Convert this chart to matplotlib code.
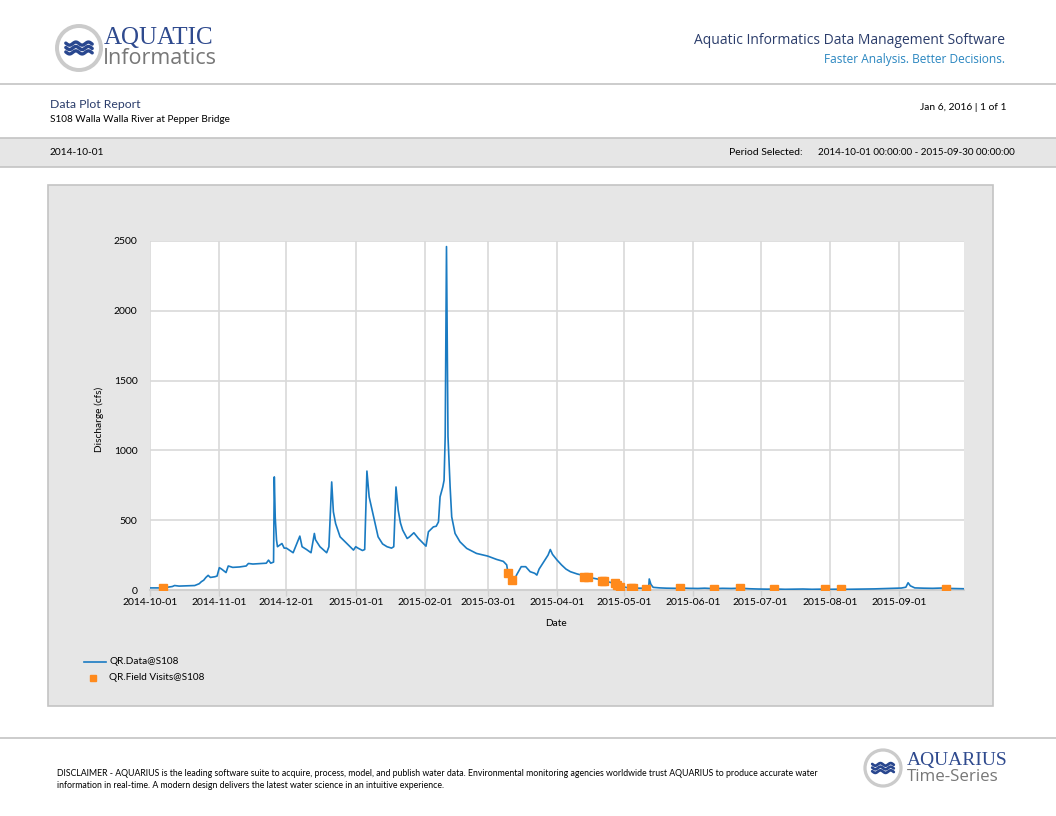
import matplotlib
matplotlib.use("Agg")
import numpy as np
import pandas as pd
import matplotlib.pyplot as plt
import matplotlib.dates as mdates
from matplotlib.patches import Rectangle, Circle

plt.rcParams['font.family'] = ['Lato', 'DejaVu Sans']

# QR.Data@S108 - discharge (cfs)
q_times = [
    "2014-10-01", "2014-10-05", "2014-10-08", "2014-10-11", "2014-10-12", "2014-10-14",
    "2014-10-18", "2014-10-21", "2014-10-23", "2014-10-24", "2014-10-25", "2014-10-26",
    "2014-10-27", "2014-10-28", "2014-10-30", "2014-10-31", "2014-11-01", "2014-11-02",
    "2014-11-04", "2014-11-05", "2014-11-07", "2014-11-10", "2014-11-13", "2014-11-14",
    "2014-11-16", "2014-11-20", "2014-11-22", "2014-11-23", "2014-11-24", "2014-11-25 06:00",
    "2014-11-25 14:00", "2014-11-26 00:00", "2014-11-26 14:00", "2014-11-27", "2014-11-29",
    "2014-11-30", "2014-12-01", "2014-12-04", "2014-12-07", "2014-12-08", "2014-12-10",
    "2014-12-12", "2014-12-13 12:00", "2014-12-14", "2014-12-16", "2014-12-19", "2014-12-20",
    "2014-12-21 06:00", "2014-12-22", "2014-12-23", "2014-12-25", "2014-12-28", "2014-12-31",
    "2015-01-01", "2015-01-02", "2015-01-04", "2015-01-05", "2015-01-06", "2015-01-07",
    "2015-01-09", "2015-01-11", "2015-01-13", "2015-01-15", "2015-01-17", "2015-01-18",
    "2015-01-19", "2015-01-20", "2015-01-21", "2015-01-22", "2015-01-24", "2015-01-25",
    "2015-01-27", "2015-01-29", "2015-02-01 10:00", "2015-02-02 12:00", "2015-02-04 17:00",
    "2015-02-06", "2015-02-07", "2015-02-07 17:00", "2015-02-08 22:00", "2015-02-09 12:00",
    "2015-02-10 00:00", "2015-02-10 14:00", "2015-02-10 22:00", "2015-02-11 06:00",
    "2015-02-12 05:00", "2015-02-12 22:00", "2015-02-14 10:00", "2015-02-16 15:00",
    "2015-02-19 15:00", "2015-02-24", "2015-03-01", "2015-03-05", "2015-03-08",
    "2015-03-09 12:00", "2015-03-10", "2015-03-11", "2015-03-12", "2015-03-13", "2015-03-14",
    "2015-03-16", "2015-03-18", "2015-03-20", "2015-03-22", "2015-03-23", "2015-03-24",
    "2015-03-26", "2015-03-28", "2015-03-29",
    "2015-03-30", "2015-04-01", "2015-04-03", "2015-04-05", "2015-04-07", "2015-04-10",
    "2015-04-12", "2015-04-14", "2015-04-17", "2015-04-20", "2015-04-23", "2015-04-26",
    "2015-04-28", "2015-04-30", "2015-05-02", "2015-05-05", "2015-05-08", "2015-05-11",
    "2015-05-12 00:00", "2015-05-12 06:00", "2015-05-13", "2015-05-14", "2015-05-17",
    "2015-05-20", "2015-05-24", "2015-05-27", "2015-05-30", "2015-06-03", "2015-06-06",
    "2015-06-10", "2015-06-14", "2015-06-18", "2015-06-22", "2015-06-26", "2015-06-30",
    "2015-07-04", "2015-07-08", "2015-07-12", "2015-07-16", "2015-07-20", "2015-07-24",
    "2015-07-28", "2015-08-01", "2015-08-05", "2015-08-09", "2015-08-13", "2015-08-17",
    "2015-08-21", "2015-08-25", "2015-08-29", "2015-09-02", "2015-09-04", "2015-09-05",
    "2015-09-06", "2015-09-08", "2015-09-12", "2015-09-16", "2015-09-20", "2015-09-24",
    "2015-09-28", "2015-09-30",
]
q_values = [
    15, 15, 18, 25, 32, 28,
    30, 32, 45, 60, 70, 90,
    105, 90, 95, 100, 160, 150,
    125, 172, 162, 165, 172, 190,
    186, 190, 192, 214, 192, 200,
    810, 520, 357, 310, 333,
    300, 300, 267, 386, 310, 290,
    267, 405, 360, 310, 267, 310,
    774, 560, 476, 381, 333, 286,
    310, 300, 283, 290, 852, 667,
    524, 381, 330, 310, 300, 310,
    738, 571, 480, 429, 369, 380,
    410, 370, 314, 417, 452,
    457, 488, 667, 738, 786,
    1100, 2460, 1800, 1100,
    738, 524, 405, 345,
    298, 262, 243, 219, 205,
    180, 130, 95, 75, 76, 110,
    167, 167, 131, 120, 107, 150,
    200, 250, 290,
    255, 215, 180, 150, 131, 115,
    107, 100, 85, 76, 62, 50,
    36, 25, 18, 14, 13, 12,
    14, 79, 40, 19, 15,
    13, 12, 14, 12, 11, 13,
    10, 12, 11, 13, 9, 7,
    6, 7, 5, 6, 7, 5,
    6, 5, 6, 5, 6, 7,
    8, 10, 12, 14, 20, 52,
    30, 15, 13, 12, 14, 11,
    10, 9,
]

# QR.Field Visits@S108
fv_times = [
    "2014-10-07", "2015-03-10", "2015-03-12", "2015-04-13", "2015-04-15", "2015-04-21",
    "2015-04-22", "2015-04-27", "2015-04-28", "2015-04-29", "2015-05-04", "2015-05-05",
    "2015-05-11", "2015-05-26", "2015-06-10", "2015-06-22", "2015-07-07", "2015-07-30",
    "2015-08-06", "2015-09-22",
]
fv_values = [
    12, 124, 71, 95, 90, 67,
    67, 48, 36, 19, 12, 12,
    7, 12, 7, 12, 5, 5,
    5, 7,
]

x_ticks = ["2014-10-01", "2014-11-01", "2014-12-01", "2015-01-01", "2015-02-01", "2015-03-01",
           "2015-04-01", "2015-05-01", "2015-06-01", "2015-07-01", "2015-08-01", "2015-09-01"]
y_ticks = [0, 500, 1000, 1500, 2000, 2500]

W, H = 1056, 816
LINE_BLUE = '#1a7bc2'
VISIT_ORANGE = '#ff8a1c'
NAVY = '#2b3d6b'
BORDER = '#c4c4c4'
PANEL = '#e6e6e6'

fig = plt.figure(figsize=(W / 100, H / 100), dpi=100)

# page background, drawn in pixel coordinates
bg = fig.add_axes([0, 0, 1, 1])
bg.set_xlim(0, W)
bg.set_ylim(H, 0)
bg.axis('off')


def wave_logo(cx, cy, r):
    bg.add_patch(Circle((cx, cy), r, facecolor='white', edgecolor='#cbcbcb',
                        linewidth=r * 0.13))
    t = np.linspace(-r * 0.6, r * 0.6, 60)
    for dy in (-0.2, 0.0, 0.2):
        bg.plot(cx + t, cy + r * dy + r * 0.07 * np.sin(t / r * 11), color='#29478f',
                linewidth=r * 0.11, solid_capstyle='round')


# header
wave_logo(79, 48, 22)
bg.text(104, 38, "AQUATIC", fontsize=18, color='#2f4a8e', family='Liberation Serif',
        va='center', ha='left')
bg.text(103, 59, "Informatics", fontsize=15.5, color='#777777', family='Open Sans',
        va='center', ha='left')
bg.text(1005, 41, "Aquatic Informatics Data Management Software", fontsize=10,
        color=NAVY, family='Open Sans', ha='right', va='center')
bg.text(1005, 60, "Faster Analysis. Better Decisions.", fontsize=8.6, color='#2a86c0',
        family='Open Sans', ha='right', va='center')
bg.axhline(84, color=BORDER, linewidth=1.2)

bg.text(50, 104, "Data Plot Report", fontsize=8.8, color=NAVY, va='center')
bg.text(50, 119, "S108 Walla Walla River at Pepper Bridge", fontsize=7.2, color='black',
        va='center')
bg.text(1006, 107, "Jan 6, 2016 | 1 of 1", fontsize=7.4, color='black', ha='right',
        va='center')

bg.add_patch(Rectangle((-2, 138), W + 4, 29, facecolor=PANEL, edgecolor=BORDER,
                       linewidth=1.2))
bg.text(50, 152.5, "2014-10-01", fontsize=7.3, color='black', va='center')
bg.text(729, 152.5, "Period Selected:", fontsize=7.5, color='black', va='center')
bg.text(818, 152.5, "2014-10-01 00:00:00 - 2015-09-30 00:00:00", fontsize=7.1,
        color='black', va='center')

# chart panel
bg.add_patch(Rectangle((48, 185), 945, 521, facecolor=PANEL, edgecolor=BORDER,
                       linewidth=1.2))
bg.text(99, 419, "Discharge (cfs)", fontsize=7.3, rotation=90, ha='center', va='center')
bg.text(556, 624, "Date", fontsize=7.3, ha='center', va='center')

# legend
bg.plot([84, 106], [662, 662], color=LINE_BLUE, linewidth=1.2)
bg.plot([93], [678], marker='s', markersize=5, color=VISIT_ORANGE, linestyle='none')
bg.text(109, 662, "QR.Data@S108", fontsize=7.2, va='center')
bg.text(109, 678, "QR.Field Visits@S108", fontsize=7.2, va='center')

# footer
bg.axhline(738, color=BORDER, linewidth=1.2)
bg.text(57, 773, "DISCLAIMER - AQUARIUS is the leading software suite to acquire, process, "
        "model, and publish water data. Environmental monitoring agencies worldwide trust "
        "AQUARIUS to produce accurate water", fontsize=6.3, va='center')
bg.text(57, 785, "information in real-time. A modern design delivers the latest water "
        "science in an intuitive experience.", fontsize=6.3, va='center')
wave_logo(883, 768, 18)
bg.text(907, 760, "AQUARIUS", fontsize=14, color='#2f4a8e', family='Liberation Serif',
        va='center', ha='left')
bg.text(907, 777, "Time-Series", fontsize=12.2, color='#777777', family='Open Sans',
        va='center', ha='left')

# data plot
ax = fig.add_axes([150 / W, 1 - 590 / H, (964 - 150) / W, (590 - 241) / H])
ax.set_facecolor('white')

q = pd.Series(q_values, index=pd.to_datetime(q_times, format='mixed'))
fv = pd.Series(fv_values, index=pd.to_datetime(fv_times))

ax.plot(q.index, q.values, color=LINE_BLUE, linewidth=1.2, zorder=3)
ax.plot(fv.index, fv.values, linestyle='none', marker='s', markersize=5.8,
        color=VISIT_ORANGE, zorder=4)

ax.set_xlim(pd.Timestamp("2014-10-01"), pd.Timestamp("2015-09-30"))
ax.set_ylim(0, 2500)
ax.set_xticks(pd.to_datetime(x_ticks))
ax.xaxis.set_major_formatter(mdates.DateFormatter('%Y-%m-%d'))
ax.set_yticks(y_ticks)
ax.grid(True, color='#d9d9d9', linewidth=1.2)
ax.set_axisbelow(True)
for side in ('top', 'right', 'left'):
    ax.spines[side].set_visible(False)
ax.spines['bottom'].set_color('#d0d0d0')
ax.spines['bottom'].set_linewidth(1.5)
ax.tick_params(axis='x', length=4, width=1, color='#d0d0d0', labelsize=7.5, pad=2)
ax.tick_params(axis='y', length=0, labelsize=7.5, pad=9)

fig.savefig("out.png", dpi=100)
